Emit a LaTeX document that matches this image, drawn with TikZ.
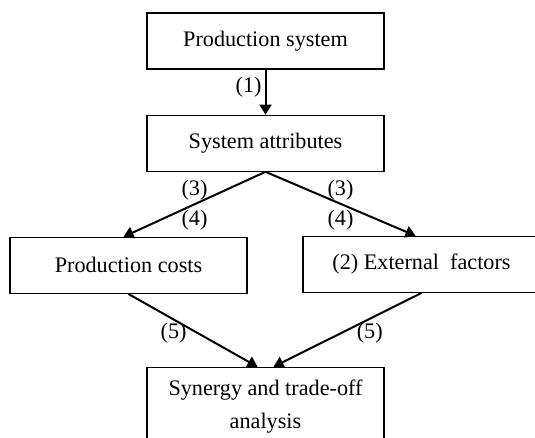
\documentclass[tikz,border=0pt]{standalone}
\usepackage{fontspec}
\setmainfont{Liberation Serif}
\usetikzlibrary{arrows.meta,positioning}
\tikzset{
    block/.style = {rectangle,fill=white,draw=black,text=black,line width=0.6pt,minimum width=118.5pt,minimum height=28pt,inner sep=0pt,align=center},
    flow/.style = {->,line width=1pt},
    num/.style = {inner sep=1.5pt},
    >={Triangle[length=5pt,width=6pt]}
}

\begin{document}
\begin{tikzpicture}[font=\fontsize{11.1}{16.5}\selectfont]
            \clip (0,0) rectangle (267.5pt,-219pt);
            \node[block]            (ps) at (132.75pt,-20.5pt)                 {Production system};
            \node[block]            (sa) [below=22.5pt of ps]                  {System attributes};
            \node[block]            (pc) [below=32.5pt of sa, xshift=-68.5pt]  {Production costs};
            \node[block]            (ef) [below=32pt of sa, xshift=78pt]       {(2) External\ \ factors};
            \node[block, minimum height=39pt] (sy) [below=97.5pt of sa]        {Synergy and trade-off\\analysis};

            \path   (ps) edge [flow] node[num, left, pos=0.4] {(1)} (sa)
                    (sa.south) edge [flow] node[num, above] {(3)} node[num, below=1pt] {(4)} ([xshift=-2.5pt]pc.north)
                    (sa.south) edge [flow] node[num, above] {(3)} node[num, below=1pt] {(4)} ([xshift=-3pt]ef.north)
                    (pc.south) edge [flow] node[num, below, pos=0.35] {(5)} ([xshift=-4pt]sy.north)
                    (ef.south) edge [flow] node[num, below, pos=0.35] {(5)} ([xshift=4pt]sy.north);
\end{tikzpicture}
\end{document}
